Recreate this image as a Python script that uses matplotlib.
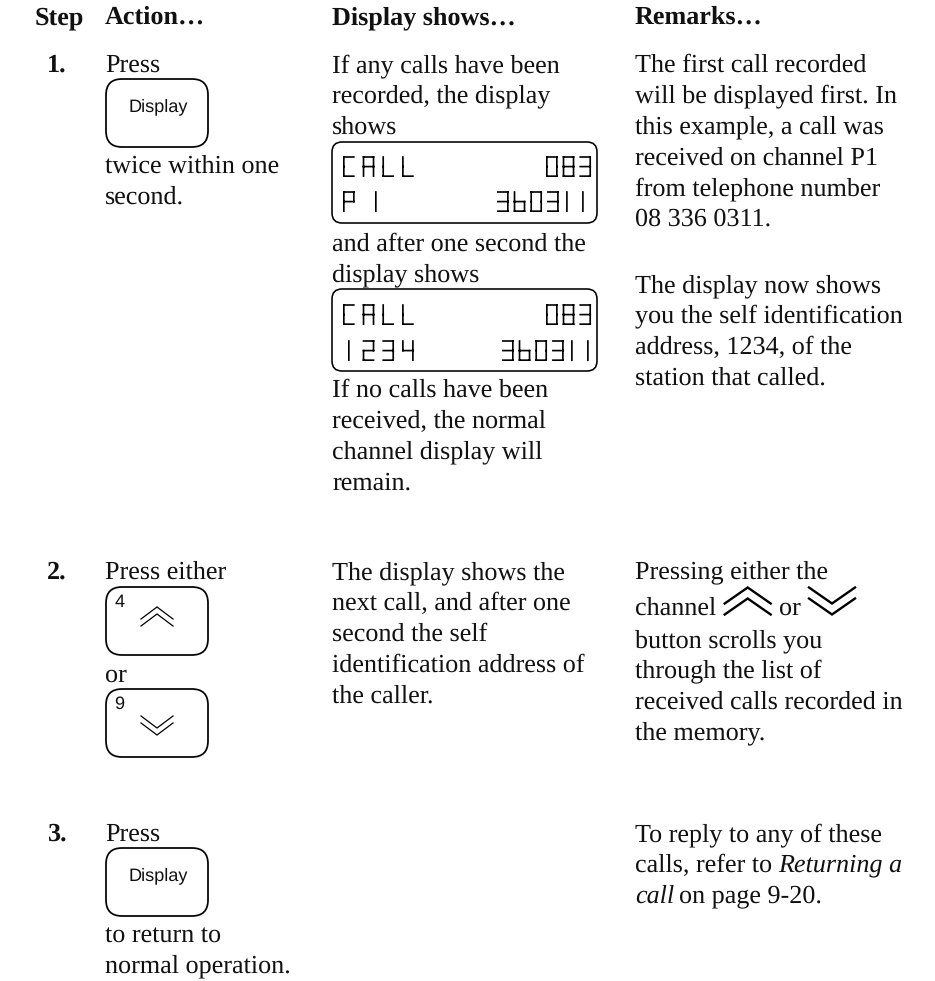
import os
import tempfile
import matplotlib
matplotlib.use('Agg')
import matplotlib.pyplot as plt
from matplotlib.patches import FancyBboxPatch
from matplotlib.font_manager import FontProperties
from fontTools.fontBuilder import FontBuilder
from fontTools.pens.ttGlyphPen import TTGlyphPen

# page text
headers = ['Step', 'Action…', 'Display shows…', 'Remarks…']
step_labels = ['1.', '2.', '3.']

action_1a = ['Press']
action_1b = ['twice within one', 'second.']
action_2a = ['Press either']
action_2b = ['or']
action_3a = ['Press']
action_3b = ['to return to', 'normal operation.']
button_label = 'Display'
up_key = '4'
down_key = '9'

shows_1a = ['If any calls have been', 'recorded, the display', 'shows']
shows_1b = ['and after one second the', 'display shows']
shows_1c = ['If no calls have been', 'received, the normal', 'channel display will', 'remain.']
shows_2 = ['The display shows the', 'next call, and after one', 'second the self',
           'identification address of', 'the caller.']

remarks_1a = ['The first call recorded', 'will be displayed first. In', 'this example, a call was',
              'received on channel P1', 'from telephone number', '08 336 0311.']
remarks_1b = ['The display now shows', 'you the self identification', 'address, 1234, of the',
              'station that called.']
remarks_2a = ['Pressing either the']
remarks_2b = ['button scrolls you', 'through the list of',
              'received calls recorded in', 'the memory.']
remarks_3 = ['To reply to any of these']

lcd_1 = ['CALL', '083', 'P 1', '360311']
lcd_2 = ['CALL', '083', '1234', '360311']

LINE = 30.8
SIZE = 18.85
X_STEP, X_ACT, X_SHOW, X_REM = 47, 105, 332, 635
INK = '#111111'


def make_lcd_font(path, adv, one_x, one_adv):
    # small seven segment font, so the display stays real text
    w, h, s = 420, 750, 60
    m = (h - s) // 2
    segs = {
        'a': (0, h - s, w, h), 'b': (w - s, m, w, h), 'c': (w - s, 0, w, m + s),
        'd': (0, 0, w, s), 'e': (0, 0, s, m + s), 'f': (0, m, s, h), 'g': (0, m, w, m + s),
    }
    chars = {'C': 'afed', 'A': 'abcefg', 'L': 'fed', 'P': 'abefg', '0': 'abcdef',
             '2': 'abdeg', '3': 'abcdg', '4': 'bcfg', '6': 'cdefg', '8': 'abcdefg'}
    glyphs = {'.notdef': TTGlyphPen(None).glyph(), 'space': TTGlyphPen(None).glyph()}
    metrics = {'.notdef': (adv, 0), 'space': (263, 0)}
    cmap = {32: 'space'}
    for ch, on in chars.items():
        pen = TTGlyphPen(None)
        for k in on:
            x0, y0, x1, y1 = segs[k]
            pen.moveTo((x0, y0))
            pen.lineTo((x0, y1))
            pen.lineTo((x1, y1))
            pen.lineTo((x1, y0))
            pen.closePath()
        name = 'g' + ch
        glyphs[name] = pen.glyph()
        metrics[name] = (adv, 0)
        cmap[ord(ch)] = name
    pen = TTGlyphPen(None)
    pen.moveTo((one_x, 0))
    pen.lineTo((one_x, h))
    pen.lineTo((one_x + s, h))
    pen.lineTo((one_x + s, 0))
    pen.closePath()
    glyphs['gone'] = pen.glyph()
    metrics['gone'] = (one_adv, one_x)
    cmap[ord('1')] = 'gone'
    fb = FontBuilder(1000, isTTF=True)
    fb.setupGlyphOrder(list(glyphs))
    fb.setupCharacterMap(cmap)
    fb.setupGlyf(glyphs)
    fb.setupHorizontalMetrics(metrics)
    fb.setupHorizontalHeader(ascent=800, descent=-200)
    fb.setupNameTable({'familyName': 'LCD', 'styleName': 'Regular'})
    fb.setupOS2(sTypoAscender=800, sTypoDescender=-200)
    fb.setupPost()
    fb.save(path)


tmp = tempfile.mkdtemp()
make_lcd_font(os.path.join(tmp, 'lcd_wide.ttf'), 709, 180, 709)
make_lcd_font(os.path.join(tmp, 'lcd_narrow.ttf'), 601, 83, 576)
lcd_wide = FontProperties(fname=os.path.join(tmp, 'lcd_wide.ttf'), size=20)
lcd_narrow = FontProperties(fname=os.path.join(tmp, 'lcd_narrow.ttf'), size=20)

plt.rcParams['font.family'] = ['Liberation Serif', 'DejaVu Serif']
plt.rcParams['text.hinting'] = 'no_hinting'

fig = plt.figure(figsize=(9.35, 9.81), dpi=100)
ax = fig.add_axes([0, 0, 1, 1])
ax.set_xlim(0, 935)
ax.set_ylim(981, 0)
ax.axis('off')


def para(x, y, lines, **kw):
    for i, line in enumerate(lines):
        ax.text(x, y + i * LINE, line, fontsize=SIZE, va='baseline', ha='left', color=INK, **kw)


def rbox(x0, y0, x1, y1, r, lw=1.25):
    ax.add_patch(FancyBboxPatch((x0 + r, y0 + r), x1 - x0 - 2 * r, y1 - y0 - 2 * r,
                                boxstyle=f'round,pad={r},rounding_size={r}',
                                fc='none', ec='black', lw=lw))


def chevron(cx, y, half, rise, gap, up, lw):
    # double chevron, y is the top of the upper stroke
    for off in (0, gap):
        if up:
            ys = [y + off + rise, y + off, y + off + rise]
        else:
            ys = [y + off, y + off + rise, y + off]
        ax.plot([cx - half, cx, cx + half], ys, color='black', lw=lw, solid_joinstyle='miter')


def button(y0, label=None, key=None, up=None):
    rbox(106, y0, 208, y0 + 68, 16)
    if label:
        ax.text(158, y0 + 28, label, family='Liberation Sans', fontsize=13.1,
                ha='center', va='center', color=INK)
    if key:
        ax.text(114.5, y0 + 20, key, family='Liberation Sans', fontsize=13.1,
                ha='left', va='baseline', color=INK)
    if up is not None:
        chevron(157, y0 + (20 if up else 27), 16, 12, 7, up, 0.9)


def lcd(y0, y1, rows, base1, base2, x1, x2):
    rbox(332, y0, 597, y1, 10, lw=1.15)
    ax.text(343, base1, rows[0], fontproperties=lcd_wide, va='baseline', color='black')
    ax.text(x1, base1, rows[1], fontproperties=lcd_narrow, va='baseline', color='black')
    ax.text(343, base2, rows[2], fontproperties=lcd_wide, va='baseline', color='black')
    ax.text(x2, base2, rows[3], fontproperties=lcd_narrow, va='baseline', color='black')


for x, h in zip([X_STEP - 12, X_ACT, X_SHOW, X_REM], headers):
    ax.text(x, 24, h, fontsize=SIZE, fontweight='bold', va='baseline', color=INK)

for y, lab in zip([72, 579, 841], step_labels):
    ax.text(X_STEP, y, lab, fontsize=SIZE, fontweight='bold', va='baseline', color=INK)

# action column
para(X_ACT, 72, action_1a)
button(79, label=button_label)
para(X_ACT, 173, action_1b)
para(X_ACT, 579, action_2a)
button(587, key=up_key, up=True)
para(X_ACT, 682, action_2b)
button(689, key=down_key, up=False)
para(X_ACT, 841, action_3a)
button(848, label=button_label)
para(X_ACT, 942, action_3b)

# display column
para(X_SHOW, 72, shows_1a)
lcd(142, 223, lcd_1, 177, 212, 545.7, 496.7)
para(X_SHOW, 251, shows_1b)
lcd(289, 371, lcd_2, 325, 361, 545.7, 501.7)
para(X_SHOW, 397, shows_1c)
para(X_SHOW, 579, shows_2)

# remarks column
para(X_REM, 72, remarks_1a)
para(X_REM, 292, remarks_1b)
para(X_REM, 578, remarks_2a)
ax.text(X_REM, 615, 'channel', fontsize=SIZE, va='baseline', color=INK)
chevron(747.7, 587.5, 23, 16, 11, True, 1.7)
ax.text(779, 615, 'or', fontsize=SIZE, va='baseline', color=INK)
chevron(832, 587.5, 23, 16, 11, False, 1.7)
para(X_REM, 647, remarks_2b)
para(X_REM, 841, remarks_3)

# mixed roman and italic lines
ax.text(X_REM, 841 + LINE, 'calls, refer to', fontsize=SIZE, va='baseline', color=INK)
ax.text(778, 841 + LINE, 'Returning a', fontsize=SIZE, style='italic', va='baseline', color=INK)
ax.text(X_REM, 841 + 2 * LINE, 'call', fontsize=SIZE, style='italic', va='baseline', color=INK)
ax.text(679, 841 + 2 * LINE, 'on page 9-20.', fontsize=SIZE, va='baseline', color=INK)

fig.savefig('out.png', dpi=100)
